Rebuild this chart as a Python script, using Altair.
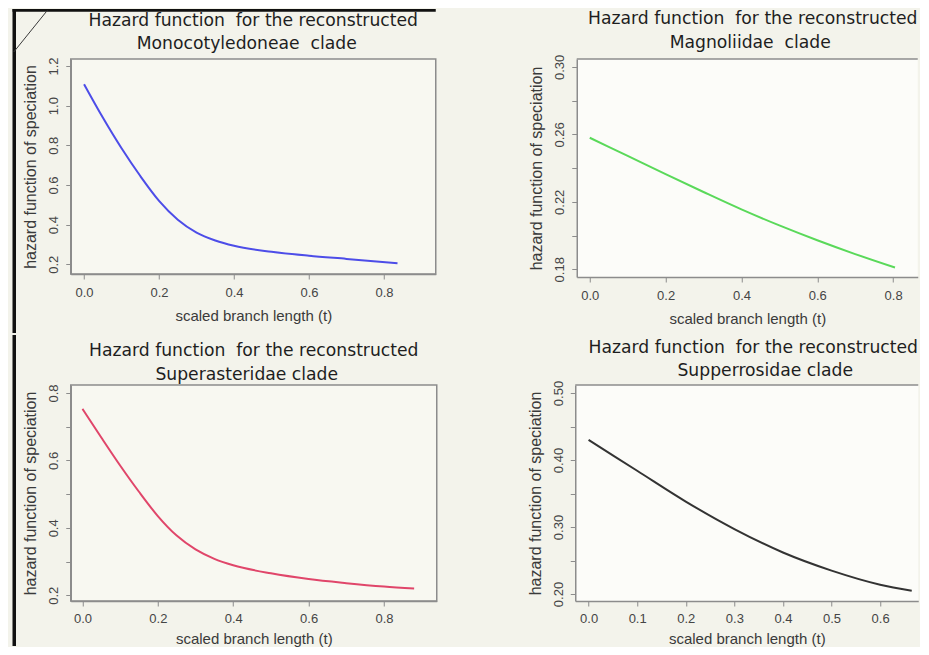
import altair as alt
import pandas as pd

# ---------------- data ----------------
title_top = "Hazard function\u00a0 for the reconstructed"
clades = ["Monocotyledoneae\u00a0 clade", "Magnoliidae\u00a0 clade",
          "Superasteridae clade", "Supperrosidae clade"]

t_mono = [0.0, 0.05, 0.1, 0.15, 0.2, 0.25, 0.3, 0.35, 0.4, 0.5, 0.6, 0.7, 0.836]
h_mono = [1.108, 0.94, 0.785, 0.645, 0.52, 0.425, 0.36, 0.32, 0.293, 0.263, 0.243, 0.227, 0.205]

t_magn = [0.0, 0.1, 0.2, 0.3, 0.4, 0.5, 0.6, 0.7, 0.805]
h_magn = [0.258, 0.2472, 0.2364, 0.2258, 0.2155, 0.2060, 0.1972, 0.1890, 0.1810]

t_supa = [0.0, 0.05, 0.1, 0.15, 0.2, 0.25, 0.3, 0.35, 0.4, 0.5, 0.6, 0.7, 0.8, 0.88]
h_supa = [0.753, 0.668, 0.585, 0.507, 0.435, 0.377, 0.336, 0.308, 0.289, 0.265, 0.248, 0.236, 0.226, 0.22]

t_supr = [0.0, 0.1, 0.2, 0.3, 0.4, 0.5, 0.6, 0.665]
h_supr = [0.430, 0.384, 0.338, 0.297, 0.262, 0.235, 0.214, 0.205]

x_ticks_a = [0.0, 0.2, 0.4, 0.6, 0.8]
x_ticks_b = [0.0, 0.1, 0.2, 0.3, 0.4, 0.5, 0.6]
y_ticks_mono = [0.2, 0.4, 0.6, 0.8, 1.0, 1.2]
y_ticks_magn = [0.18, 0.20, 0.22, 0.24, 0.26, 0.28, 0.30]
y_ticks_supa = [0.2, 0.3, 0.4, 0.5, 0.6, 0.7, 0.8]
y_ticks_supr = [0.20, 0.25, 0.30, 0.35, 0.40, 0.45, 0.50]

x_title = "scaled branch length (t)"
y_title = "hazard function of speciation"

FRAME = "#8c8c8c"
LABEL = "#454545"
TFONT = "DejaVu Sans"
AFONT = "Liberation Sans"
SLIDE = "#111111"


def panel(t, h, color, clade, xdom, ydom, xticks, yticks, ylabel_expr,
          w, hgt, clipped, fill, tpos, top_reach, xlab_pad, xtitle_pad, deco=None):
    df = pd.DataFrame({"t": t, "h": h})
    one = pd.DataFrame({"k": [0]})
    xaxis = alt.Axis(values=xticks, format=".1f", title=x_title, grid=False,
                     tickSize=5, tickColor=FRAME, domainColor=FRAME, domainWidth=1.5,
                     labelFont=AFONT, labelFontSize=13, labelColor=LABEL,
                     labelPadding=xlab_pad, labelFlush=False, labelOverlap=False,
                     titleFont=AFONT, titleFontSize=15, titleFontWeight="normal",
                     titleColor="#3a3a3a", titlePadding=xtitle_pad)
    yaxis = alt.Axis(values=yticks, labelExpr=ylabel_expr, title=y_title, grid=False,
                     tickSize=5, tickColor=FRAME, domainColor=FRAME, domainWidth=1.5,
                     labelFont=AFONT, labelFontSize=13, labelColor=LABEL,
                     labelAngle=-90, labelAlign="center", labelBaseline="bottom",
                     labelPadding=5, labelFlush=False, labelOverlap=False,
                     titleFont=AFONT, titleFontSize=16, titleFontWeight="normal",
                     titleColor="#3a3a3a", titlePadding=9)
    line = alt.Chart(df).mark_line(color=color, strokeWidth=2, interpolate="monotone").encode(
        x=alt.X("t:Q", scale=alt.Scale(domain=xdom, nice=False, zero=False), axis=xaxis),
        y=alt.Y("h:Q", scale=alt.Scale(domain=ydom, nice=False, zero=False), axis=yaxis),
    )
    (x1, y1), (x2, y2) = tpos
    t1 = alt.Chart(one).mark_text(text=title_top, font=TFONT, fontSize=17.2, color="#1e1e1e",
                                  align="center", baseline="middle").encode(
        x=alt.value(x1), y=alt.value(y1))
    t2 = alt.Chart(one).mark_text(text=clade, font=TFONT, fontSize=17.2, color="#1e1e1e",
                                  align="center", baseline="middle").encode(
        x=alt.value(x2), y=alt.value(y2))
    # invisible guide that fixes how far the panel reaches above its plot box
    reach = alt.Chart(one).mark_rule(strokeWidth=1, opacity=0).encode(
        x=alt.value(0), x2=alt.value(w), y=alt.value(top_reach))
    layers = [line, t1, t2, reach]
    if clipped:
        top = alt.Chart(one).mark_rule(color=FRAME, strokeWidth=1.5).encode(
            x=alt.value(0), x2=alt.value(w), y=alt.value(0))
        layers.append(top)
    if deco is not None:
        # slide frame: thick black bar on the left (and along the top-left)
        vy1, vy2, top_line = deco
        layers.append(alt.Chart(one).mark_rect(color=SLIDE, strokeWidth=0).encode(
            x=alt.value(-58.25), x2=alt.value(-54.75), y=alt.value(vy1), y2=alt.value(vy2)))
        if top_line:
            layers.append(alt.Chart(one).mark_rect(color=SLIDE, strokeWidth=0).encode(
                x=alt.value(-58.25), x2=alt.value(w), y=alt.value(-50), y2=alt.value(-47.3)))
            layers.append(alt.Chart(one).mark_rule(color="#3a3a3a", strokeWidth=1,
                                                   strokeJoin="round").encode(
                x=alt.value(-57), y=alt.value(-7), x2=alt.value(-23.5), y2=alt.value(-48.5)))
    view = alt.ViewBackground(fill=fill,
                              stroke="transparent" if clipped else FRAME,
                              strokeWidth=1.5)
    return alt.layer(*layers).properties(width=w, height=hgt, view=view)


lab1 = "format(datum.value, '.1f')"
lab2 = "round(datum.value*100) % 4 == 2 ? format(datum.value, '.2f') : ''"
lab3 = "round(datum.value*10) % 2 == 0 ? format(datum.value, '.1f') : ''"
lab4 = "round(datum.value*100) % 10 == 0 ? format(datum.value, '.2f') : ''"

p1 = panel(t_mono, h_mono, "#4d4de8", clades[0], [-0.0355, 0.938], [0.151, 1.235],
           x_ticks_a, y_ticks_mono, lab1, 365, 215, False, "#f8f8f1",
           ((182.5, -38), (176, -15.3)), -49.5, 7, 9,
           deco=(-50, 274, True))
p2 = panel(t_magn, h_magn, "#5ad95a", clades[1], [-0.0343, 0.865], [0.1754, 0.3047],
           x_ticks_a, y_ticks_magn, lab2, 341, 218, True, "#fcfcf9",
           ((176, -39.7), (173.5, -16.3)), -49.5, 7, 9)
p3 = panel(t_supa, h_supa, "#e0466a", clades[2], [-0.031, 0.940], [0.183, 0.8237],
           x_ticks_a, y_ticks_supa, lab3, 366, 216, False, "#f8f8f1",
           ((183, -34), (176, -10)), -50, 6, 6,
           deco=(-50, 261, False))
p4 = panel(t_supr, h_supr, "#333333", clades[3], [-0.0274, 0.6784], [0.1896, 0.512],
           x_ticks_b, y_ticks_supr, lab4, 343, 216, True, "#fcfcf9",
           ((178, -37), (190, -13.7)), -50, 6, 6)

chart = alt.vconcat(
    alt.hconcat(p1, p2, spacing=91),
    alt.hconcat(p3, p4, spacing=88.5),
    spacing=0,
).properties(
    padding={"left": 3.75, "top": 0, "right": 0, "bottom": 0},
    background="#f3f3eb",
).configure_view(stroke=FRAME)

chart.save("out.html", embed_options={"renderer": "svg", "actions": False})
